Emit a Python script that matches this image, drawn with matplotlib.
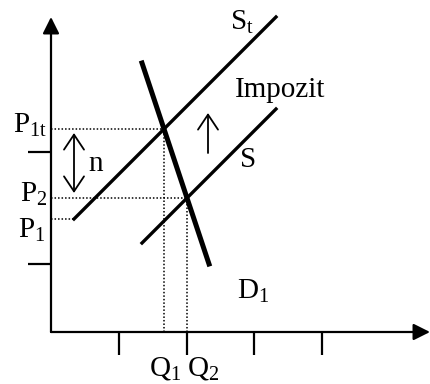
"""
Tax shift of supply curve (S -> St) with demand D1
"""

import matplotlib
matplotlib.use("Agg")
import matplotlib.pyplot as plt

# data units are pixels measured from the axis corner
x_ticks = [68, 136, 203, 271]
y_ticks = [68, 180]

supply_x = [91, 225]
supply_y = [89, 223]
supply_tax_x = [23, 225]
supply_tax_y = [113, 315]
demand_x = [91, 158]
demand_y = [269, 68]

q_vals = [113, 136]          # Q1, Q2
p_vals = [203, 134, 113]     # P1t, P2, P1
q_labels = [r"Q$_{\mathrm{1}}$", r"Q$_{\mathrm{2}}$"]
p_labels = [r"P$_{\mathrm{1t}}$", r"P$_{\mathrm{2}}$", r"P$_{\mathrm{1}}$"]

plt.rcParams["font.family"] = ["Liberation Serif", "DejaVu Serif"]
plt.rcParams["mathtext.fontset"] = "custom"
plt.rcParams["mathtext.rm"] = "Liberation Serif"
plt.rcParams["mathtext.it"] = "Liberation Serif:italic"

fig = plt.figure(figsize=(4.3, 3.84), dpi=100)
ax = fig.add_axes([0, 0, 1, 1])
ax.set_xlim(-51, 379)
ax.set_ylim(-52, 332)
ax.axis("off")

fs = 21

# axes with arrow heads
head = dict(arrowstyle="-|>,head_length=0.5,head_width=0.25", color="black",
            lw=1.6, mutation_scale=20, shrinkA=0, shrinkB=0)
ax.annotate("", xy=(0, 315), xytext=(0, 0), arrowprops=head)
ax.annotate("", xy=(379, 0), xytext=(0, 0), arrowprops=head)

for t in x_ticks:
    ax.plot([t, t], [0, -23], color="black", lw=1.6, solid_capstyle="butt")
for t in y_ticks:
    ax.plot([-23, 0], [t, t], color="black", lw=1.6, solid_capstyle="butt")

# dotted guides
dot = dict(color="black", lw=1.1, ls=(0, (1, 1.3)))
ax.plot([0, q_vals[0]], [p_vals[0], p_vals[0]], **dot)
ax.plot([q_vals[0], q_vals[0]], [0, p_vals[0]], **dot)
ax.plot([0, q_vals[1]], [p_vals[1], p_vals[1]], **dot)
ax.plot([q_vals[1], q_vals[1]], [0, p_vals[1]], **dot)
ax.plot([0, supply_tax_x[0]], [p_vals[2], p_vals[2]], **dot)

# curves
ax.plot(supply_tax_x, supply_tax_y, color="black", lw=2.4)
ax.plot(supply_x, supply_y, color="black", lw=2.4)
ax.plot(demand_x, demand_y, color="black", lw=3.6)

# open arrows
ax.annotate("", xy=(157, 219), xytext=(157, 179),
            arrowprops=dict(arrowstyle="->,head_length=0.6,head_width=0.4",
                            color="black", lw=1.3, mutation_scale=18,
                            shrinkA=0, shrinkB=0))
ax.annotate("", xy=(23, 199), xytext=(23, 139),
            arrowprops=dict(arrowstyle="<->,head_length=0.6,head_width=0.4",
                            color="black", lw=1.3, mutation_scale=18,
                            shrinkA=0, shrinkB=0))

# labels
ax.text(179, 302, r"S$_{\mathrm{t}}$", fontsize=fs, va="baseline")
ax.text(184, 235, "Impozit", fontsize=fs, va="baseline")
ax.text(189, 165, "S", fontsize=fs, va="baseline")
ax.text(186, 33, r"D$_{\mathrm{1}}$", fontsize=fs, va="baseline")
ax.text(37, 161, "n", fontsize=fs, va="baseline")

p_baselines = [199, 130, 94]
for base, lab, x in zip(p_baselines, p_labels, [-4, -4, -6]):
    ax.text(x, base, lab, fontsize=fs, ha="right", va="baseline")

for q, lab, x in zip(q_vals, q_labels, [98, 136]):
    ax.text(x, -43, lab, fontsize=fs, ha="left", va="baseline")

fig.savefig("out.png", dpi=100)
